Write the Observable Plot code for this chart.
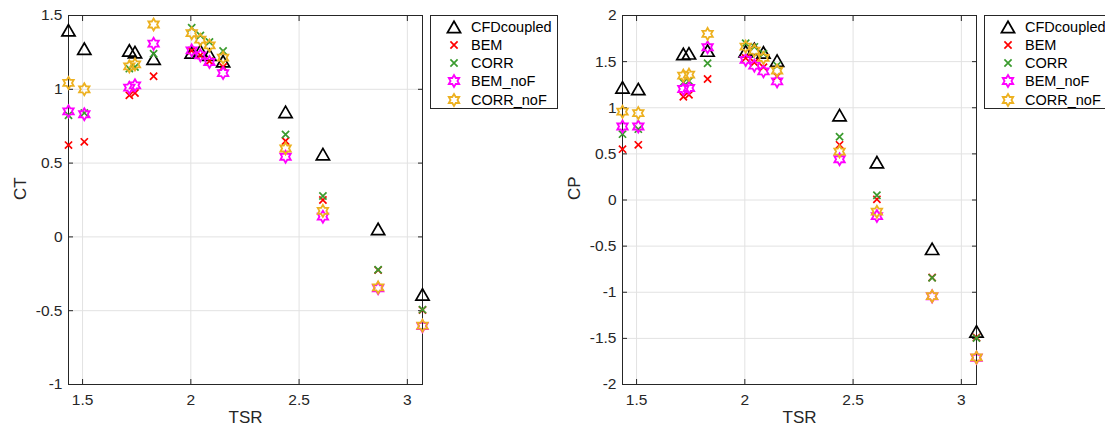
<!DOCTYPE html>
<html><head><meta charset="utf-8">
<script src="https://cdn.jsdelivr.net/npm/d3@7"></script>
<script src="https://cdn.jsdelivr.net/npm/@observablehq/plot@0.6"></script>
<style>
body{margin:0;width:1105px;height:430px;overflow:hidden;background:#fff;font-family:"Liberation Sans",Arial,sans-serif;}
.panel{position:absolute;top:0;}
.legend{position:absolute;top:15px;width:126px;height:92px;border:1px solid #262626;background:#fff;font-size:14.5px;color:#000;}
.legend .row{position:absolute;left:0;height:18px;line-height:18px;white-space:nowrap;}
.legend svg{position:absolute;left:13px;top:-1px;overflow:visible;}
.legend span{position:absolute;left:40px;top:0;}
</style></head><body>
<div id="left" class="panel" style="left:0"></div>
<div id="right" class="panel" style="left:554px"></div>
<div id="legL" class="legend" style="left:430px"></div>
<div id="legR" class="legend" style="left:984px"></div>
<script>
// ---- data ----
const tsr = [1.435, 1.508, 1.716, 1.742, 1.828, 2.004, 2.044, 2.086, 2.149, 2.4375, 2.61, 2.865, 3.07];
const xTicks = [1.5, 2, 2.5, 3];
const ctTicks = [-1, -0.5, 0, 0.5, 1, 1.5];
const cpTicks = [-2, -1.5, -1, -0.5, 0, 0.5, 1, 1.5, 2];
const seriesNames = ["CFDcoupled", "BEM", "CORR", "BEM_noF", "CORR_noF"];

const ctCFD     = [1.40, 1.275, 1.263, 1.252, 1.207, 1.25, 1.262, 1.235, 1.19, 0.847, 0.561, 0.054, -0.39];
const ctBEM     = [0.622, 0.644, 0.959, 0.975, 1.088, 1.262, 1.23, 1.19, 1.151, 0.65, 0.25, -0.225, -0.495];
const ctCORR    = [0.824, 0.84, 1.14, 1.151, 1.241, 1.417, 1.365, 1.32, 1.259, 0.694, 0.277, -0.223, -0.493];
const ctBEMnoF  = [0.851, 0.831, 1.011, 1.027, 1.309, 1.264, 1.23, 1.185, 1.11, 0.543, 0.137, -0.348, -0.605];
const ctCORRnoF = [1.043, 1.0, 1.155, 1.169, 1.439, 1.38, 1.336, 1.297, 1.214, 0.599, 0.176, -0.342, -0.601];

const cpCFD     = [1.221, 1.203, 1.583, 1.59, 1.62, 1.612, 1.638, 1.6, 1.511, 0.92, 0.41, -0.529, -1.424];
const cpBEM     = [0.551, 0.598, 1.12, 1.141, 1.312, 1.54, 1.49, 1.44, 1.34, 0.598, 0.007, -0.84, -1.49];
const cpCORR    = [0.714, 0.768, 1.275, 1.29, 1.482, 1.699, 1.66, 1.587, 1.457, 0.685, 0.051, -0.844, -1.497];
const cpBEMnoF  = [0.797, 0.797, 1.203, 1.214, 1.656, 1.518, 1.457, 1.395, 1.286, 0.442, -0.174, -1.045, -1.71];
const cpCORRnoF = [0.957, 0.942, 1.348, 1.359, 1.801, 1.663, 1.62, 1.54, 1.402, 0.525, -0.127, -1.043, -1.707];

// ---- marker styles ----
const triangleSym = {draw(ctx) { const r = 6.6, h = 5.7; ctx.moveTo(0, -h); ctx.lineTo(r, h); ctx.lineTo(-r, h); ctx.closePath(); }};
const crossSym = {draw(ctx) { const a = 3.6; ctx.moveTo(-a, -a); ctx.lineTo(a, a); ctx.moveTo(a, -a); ctx.lineTo(-a, a); }};
const hexSym = {draw(ctx) {
  const R = 6, r = R / Math.sqrt(3);
  for (let i = 0; i < 12; i++) {
    const ang = -Math.PI / 2 + i * Math.PI / 6;
    const rr = i % 2 === 0 ? R : r;
    const px = rr * Math.cos(ang), py = rr * Math.sin(ang);
    if (i === 0) ctx.moveTo(px, py); else ctx.lineTo(px, py);
  }
  ctx.closePath();
}};
const styles = [
  {symbol: triangleSym, stroke: "#000000", strokeWidth: 1.7},
  {symbol: crossSym, stroke: "#ff0000", strokeWidth: 1.7},
  {symbol: crossSym, stroke: "#3a9b2e", strokeWidth: 1.7},
  {symbol: hexSym, stroke: "#ff00ff", strokeWidth: 1.8},
  {symbol: hexSym, stroke: "#edb120", strokeWidth: 1.8}
];

function panel(el, yLabel, yDomain, yTicks, seriesVals, width, marginRight) {
  const fmt = d => String(d);
  const marks = [
    Plot.gridX(xTicks, {stroke: "#e2e2e2", strokeOpacity: 1}),
    Plot.gridY(yTicks, {stroke: "#e2e2e2", strokeOpacity: 1}),
    Plot.frame({stroke: "#262626", strokeWidth: 1}),
    Plot.axisX(xTicks, {anchor: "bottom", tickSize: 0, tickPadding: 9, label: null, tickFormat: fmt, fill: "#262626", fontSize: 15.5}),
    Plot.axisX(xTicks, {anchor: "bottom", tickSize: -5, text: null, label: null, stroke: "#262626"}),
    Plot.axisX(xTicks, {anchor: "top", tickSize: -5, text: null, label: null, stroke: "#262626"}),
    Plot.axisY(yTicks, {anchor: "left", tickSize: 0, tickPadding: 6, label: null, tickFormat: fmt, fill: "#262626", fontSize: 15.5}),
    Plot.axisY(yTicks, {anchor: "left", tickSize: -5, text: null, label: null, stroke: "#262626"}),
    Plot.axisY(yTicks, {anchor: "right", tickSize: -5, text: null, label: null, stroke: "#262626"}),
    Plot.text(["TSR"], {frameAnchor: "bottom", dy: 38, fontSize: 17, fill: "#262626"}),
    Plot.text([yLabel], {frameAnchor: "left", dx: -48, rotate: -90, fontSize: 17, fill: "#262626"})
  ];
  seriesVals.forEach((vals, k) => {
    const data = tsr.map((t, i) => ({x: t, y: vals[i]}));
    marks.push(Plot.dot(data, {x: "x", y: "y", r: 5, fill: "none", ...styles[k]}));
  });
  const chart = Plot.plot({
    width, height: 430, marginLeft: 68, marginRight, marginTop: 15, marginBottom: 46,
    x: {domain: d3.extent(tsr)},
    y: {domain: yDomain},
    style: {fontFamily: "'Liberation Sans', Arial, sans-serif", fontSize: "15.5px", background: "white", overflow: "visible"},
    marks
  });
  document.getElementById(el).appendChild(chart);
}

panel("left", "CT", [-1, 1.5], ctTicks, [ctCFD, ctBEM, ctCORR, ctBEMnoF, ctCORRnoF], 560, 138);
panel("right", "CP", [-2, 2], cpTicks, [cpCFD, cpBEM, cpCORR, cpBEMnoF, cpCORRnoF], 551, 129);

function legend(id) {
  const box = document.getElementById(id);
  seriesNames.forEach((name, k) => {
    const row = document.createElement("div");
    row.className = "row";
    row.style.top = (1.7 + k * 18.2) + "px";
    const s = styles[k];
    const path = d3.symbol().type(s.symbol)();
    row.innerHTML = `<svg width="20" height="20"><path transform="translate(10,10)" d="${path}" fill="none" stroke="${s.stroke}" stroke-width="${s.strokeWidth}"/></svg><span>${name}</span>`;
    box.appendChild(row);
  });
}
legend("legL");
legend("legR");
</script>
</body></html>
